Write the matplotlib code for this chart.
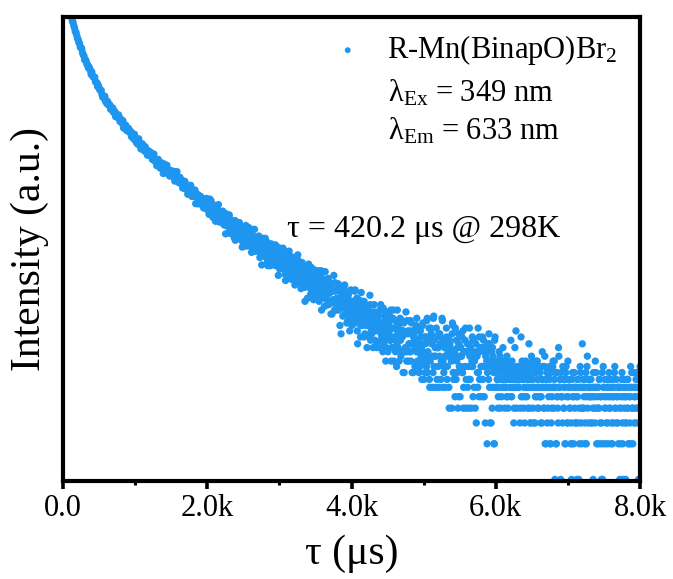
import numpy as np
import matplotlib
matplotlib.use("Agg")
import matplotlib.pyplot as plt
from matplotlib.ticker import NullLocator, FixedLocator, FixedFormatter

# ---------------- data (photon counts) ----------------
# channel set A: every 10 µs starting at 120 µs
T_START_A_US = 120.0
T_STEP_US = 10.0

COUNTS_A_0_1K = [
    7940, 7440, 7300, 6820, 6540, 6100, 6000, 5680, 5350, 5230,
    4940, 4830, 4500, 4460, 4370, 4060, 3870, 3800, 3520, 3540,
    3440, 3250, 3200, 3020, 3070, 2955, 2845, 2650, 2780, 2585,
    2510, 2497, 2510, 2295, 2270, 2250, 2092, 2145, 2045, 1964,
    1939, 1941, 1796, 1703, 1745, 1664, 1729, 1565, 1595, 1498,
    1559, 1460, 1467, 1461, 1344, 1382, 1339, 1377, 1265, 1294,
    1279, 1163, 1221, 1155, 1149, 1206, 1143, 1061, 1113, 1055,
    1022, 1077, 934, 984, 984, 985, 891, 927, 887, 925,
    858, 860, 872, 787, 832, 792, 755, 828, 766, 721,
    699, 733, 679, 757, 676, 688, 621, 640, 686, 645,
]
COUNTS_A_1K_2K = [
    643, 596, 648, 597, 600, 550, 601, 579, 549, 584,
    545, 564, 505, 540, 562, 503, 485, 507, 448, 500,
    507, 460, 471, 427, 476, 457, 438, 385, 464, 408,
    403, 421, 452, 385, 396, 411, 366, 409, 387, 372,
    381, 402, 356, 332, 370, 351, 399, 333, 358, 321,
    358, 320, 332, 338, 290, 317, 305, 330, 284, 306,
    306, 257, 292, 267, 270, 306, 280, 246, 279, 256,
    246, 279, 214, 244, 250, 256, 213, 237, 221, 246,
    218, 224, 235, 197, 225, 209, 195, 237, 210, 192,
    185, 207, 183, 228, 187, 196, 164, 176, 203, 184,
]
COUNTS_A_2K_3K = [
    185, 163, 194, 168, 173, 150, 177, 168, 154, 176,
    158, 171, 141, 162, 176, 145, 138, 151, 121, 151,
    158, 135, 143, 120, 149, 140, 132, 105, 148, 120,
    119, 130, 148, 112, 120, 128, 104, 129, 117, 110,
    117, 130, 106, 94, 116, 106, 134, 98, 113, 93,
    117, 97, 105, 110, 85, 101, 96, 111, 87, 99,
    102, 75, 96, 83, 87, 109, 95, 77, 97, 85,
    81, 101, 64, 83, 88, 92, 69, 83, 75, 90,
    75, 79, 86, 64, 82, 73, 65, 91, 76, 65,
    62, 76, 63, 90, 66, 72, 54, 61, 79, 68,
]
COUNTS_A_3K_4K = [
    69, 56, 75, 61, 64, 49, 68, 63, 55, 69,
    58, 66, 49, 62, 71, 54, 50, 59, 41, 60,
    63, 49, 55, 42, 59, 55, 50, 34, 61, 45,
    43, 51, 62, 41, 46, 52, 37, 53, 47, 42,
    47, 55, 40, 32, 46, 41, 58, 36, 46, 34,
    48, 36, 42, 45, 30, 40, 37, 47, 32, 40,
    41, 25, 39, 31, 33, 46, 39, 27, 40, 33,
    30, 43, 20, 32, 35, 38, 24, 33, 28, 38,
    28, 31, 36, 22, 33, 28, 24, 40, 30, 24,
    22, 31, 23, 40, 25, 29, 18, 22, 33, 27,
]
COUNTS_A_4K_5K = [
    28, 20, 32, 23, 25, 16, 28, 25, 20, 28,
    22, 27, 16, 25, 30, 19, 17, 23, 13, 24,
    26, 18, 21, 14, 25, 22, 20, 13, 27, 17,
    16, 21, 28, 14, 18, 22, 13, 23, 19, 16,
    19, 24, 15, 10, 19, 16, 27, 13, 19, 12,
    22, 14, 17, 20, 10, 17, 15, 22, 12, 18,
    18, 8, 17, 12, 13, 22, 17, 10, 18, 14,
    12, 21, 8, 14, 16, 18, 9, 15, 12, 19,
    12, 14, 18, 9, 16, 13, 10, 21, 14, 10,
    8, 16, 9, 23, 12, 15, 7, 10, 19, 14,
]
COUNTS_A_5K_6K = [
    15, 8, 24, 11, 13, 6, 16, 13, 9, 17,
    11, 16, 7, 14, 22, 10, 8, 13, 6, 14,
    16, 9, 12, 6, 15, 13, 11, 4, 21, 8,
    8, 12, 19, 7, 10, 13, 5, 14, 11, 9,
    11, 16, 8, 4, 12, 9, 19, 7, 12, 6,
    14, 7, 11, 13, 4, 10, 9, 15, 6, 11,
    12, 3, 11, 6, 8, 16, 12, 5, 13, 9,
    7, 15, 5, 9, 11, 13, 2, 10, 7, 14,
    3, 9, 12, 4, 11, 8, 2, 16, 10, 6,
    7, 4, 9, 6, 11, 8, 5, 7, 13, 6,
]
COUNTS_A_6K_7K = [
    8, 6, 10, 5, 7, 4, 9, 8, 6, 15,
    5, 9, 7, 3, 8, 6, 18, 4, 7, 9,
    6, 8, 4, 16, 7, 5, 9, 6, 3, 8,
    9, 5, 7, 6, 14, 4, 8, 3, 7, 10,
    6, 3, 8, 5, 10, 7, 4, 6, 9, 5,
    7, 5, 3, 9, 6, 4, 11, 7, 2, 8,
    4, 8, 6, 7, 2, 3, 5, 9, 6, 10,
    1, 8, 2, 5, 4, 13, 6, 7, 1, 5,
    5, 9, 4, 6, 2, 8, 7, 3, 10, 6,
    6, 4, 2, 1, 7, 5, 2, 8, 3, 6,
]
COUNTS_A_7K_8K = [
    5, 7, 3, 1, 2, 9, 6, 4, 14, 7,
    4, 6, 2, 8, 5, 11, 3, 7, 6, 5,
    7, 3, 5, 1, 6, 4, 10, 8, 2, 5,
    6, 4, 7, 2, 5, 3, 1, 9, 6, 4,
    2, 5, 7, 3, 6, 8, 4, 5, 2, 7,
    5, 3, 6, 9, 4, 7, 5, 3, 2, 6,
    1, 6, 4, 8, 2, 5, 7, 3, 1, 6,
    4, 7, 2, 5, 3, 9, 6, 4, 2, 8,
    5, 3, 6, 4, 8, 7, 1, 5, 9,
]

# channel set B: the in-between channels, every 10 µs starting at 2005 µs
T_START_B_US = 2005.0

COUNTS_B_2K_3K = [
    220, 197, 174, 234, 182, 202, 187, 212, 168, 188,
    184, 152, 195, 183, 167, 210, 151, 158, 178, 162,
    154, 185, 144, 155, 168, 119, 162, 153, 144, 167,
    172, 130, 146, 119, 138, 150, 126, 110, 154, 127,
    111, 136, 127, 117, 148, 109, 125, 136, 92, 123,
    128, 110, 94, 140, 102, 117, 107, 126, 94, 109,
    107, 83, 117, 108, 96, 130, 85, 91, 107, 95,
    89, 114, 83, 92, 102, 65, 98, 93, 85, 104,
    109, 77, 90, 70, 84, 94, 76, 64, 98, 78,
    66, 86, 79, 72, 96, 66, 79, 87, 53, 78,
]
COUNTS_B_3K_4K = [
    60, 79, 72, 65, 89, 60, 72, 80, 48, 71,
    76, 62, 50, 85, 56, 68, 60, 76, 51, 63,
    61, 44, 69, 63, 54, 79, 46, 50, 63, 54,
    50, 68, 45, 52, 60, 32, 57, 53, 48, 62,
    66, 42, 52, 37, 48, 56, 42, 33, 59, 44,
    35, 50, 46, 40, 58, 36, 46, 52, 27, 45,
    49, 39, 29, 57, 34, 44, 38, 50, 30, 40,
    38, 25, 45, 40, 33, 53, 27, 31, 40, 34,
    31, 45, 27, 33, 39, 17, 37, 34, 30, 41,
    44, 25, 33, 21, 30, 36, 25, 18, 39, 27,
]
COUNTS_B_4K_5K = [
    20, 32, 28, 24, 39, 21, 29, 34, 14, 29,
    32, 24, 16, 38, 20, 28, 23, 32, 17, 25,
    24, 13, 29, 25, 20, 36, 15, 18, 26, 21,
    18, 30, 15, 20, 25, 13, 24, 21, 18, 27,
    30, 15, 21, 12, 19, 24, 15, 10, 26, 17,
    12, 21, 18, 15, 27, 13, 19, 23, 10, 19,
    22, 15, 9, 27, 13, 19, 15, 23, 11, 17,
    16, 8, 21, 17, 13, 26, 10, 12, 18, 14,
    12, 22, 10, 14, 18, 8, 17, 15, 13, 20,
    23, 10, 15, 8, 14, 18, 11, 7, 20, 12,
]
COUNTS_B_5K_6K = [
    7, 16, 14, 11, 22, 8, 15, 19, 6, 15,
    17, 11, 6, 23, 9, 15, 11, 19, 7, 13,
    13, 6, 17, 14, 10, 23, 6, 9, 15, 11,
    9, 19, 7, 11, 15, 4, 14, 12, 10, 17,
    20, 7, 12, 5, 11, 15, 8, 4, 17, 9,
    5, 13, 11, 8, 18, 6, 12, 15, 4, 12,
    14, 9, 4, 19, 7, 12, 9, 16, 5, 11,
    10, 4, 14, 11, 8, 19, 5, 7, 13, 9,
    7, 16, 5, 9, 13, 3, 12, 10, 8, 14,
    17, 6, 10, 3, 9, 13, 6, 2, 15, 8,
]
COUNTS_B_6K_7K = [
    6, 9, 7, 5, 12, 8, 4, 7, 10, 6,
    9, 7, 4, 8, 6, 11, 5, 7, 9, 8,
    7, 5, 10, 6, 8, 4, 13, 7, 6, 9,
    8, 6, 7, 3, 9, 5, 10, 8, 4, 7,
    5, 10, 6, 8, 4, 7, 9, 3, 6, 11,
    7, 4, 9, 6, 3, 8, 5, 10, 6, 4,
    5, 8, 3, 6, 12, 7, 4, 9, 2, 6,
    6, 3, 7, 5, 9, 2, 8, 4, 6, 10,
    4, 7, 6, 2, 8, 5, 3, 11, 6, 7,
    8, 5, 3, 7, 4, 6, 2, 9, 5, 3,
]
COUNTS_B_7K_8K = [
    5, 7, 4, 6, 3, 2, 8, 5, 6, 4,
    6, 3, 1, 5, 7, 4, 6, 8, 3, 2,
    4, 6, 5, 3, 7, 2, 9, 4, 6, 5,
    7, 5, 3, 6, 4, 8, 5, 3, 6, 4,
    6, 2, 4, 7, 3, 5, 1, 8, 2, 6,
    5, 7, 4, 3, 6, 2, 5, 7, 4, 6,
    3, 2, 6, 5, 8, 4, 7, 3, 5, 6,
    6, 4, 2, 5, 7, 3, 1, 6, 4, 5,
    5, 3, 7, 4, 2, 6, 5, 2, 8, 4,
    4, 6, 3, 5, 7, 4, 6, 3, 5, 8,
]

SERIES_LABEL = r"R-Mn(BinapO)Br$_2$"
EX_TEXT = r"λ$_{\mathrm{Ex}}$ = 349 nm"
EM_TEXT = r"λ$_{\mathrm{Em}}$ = 633 nm"
TAU_TEXT = "τ = 420.2 μs @ 298K"
X_TICKS = [0, 2000, 4000, 6000, 8000]
X_TICK_LABELS = ["0.0", "2.0k", "4.0k", "6.0k", "8.0k"]
X_MINOR_TICKS = [1000, 3000, 5000, 7000]
X_LABEL = "τ (μs)"
Y_LABEL = "Intensity (a.u.)"

counts_a = np.array(COUNTS_A_0_1K + COUNTS_A_1K_2K + COUNTS_A_2K_3K
                    + COUNTS_A_3K_4K + COUNTS_A_4K_5K + COUNTS_A_5K_6K
                    + COUNTS_A_6K_7K + COUNTS_A_7K_8K, dtype=float)
times_a = T_START_A_US + T_STEP_US * np.arange(len(counts_a))
counts_b = np.array(COUNTS_B_2K_3K + COUNTS_B_3K_4K + COUNTS_B_4K_5K
                    + COUNTS_B_5K_6K + COUNTS_B_6K_7K + COUNTS_B_7K_8K,
                    dtype=float)
times_b = T_START_B_US + T_STEP_US * np.arange(len(counts_b))

times = np.concatenate([times_a, times_b])
counts = np.concatenate([counts_a, counts_b])

# ---------------- style ----------------
plt.rcParams["font.family"] = ["Liberation Serif", "DejaVu Serif"]
plt.rcParams["mathtext.fontset"] = "custom"
plt.rcParams["mathtext.rm"] = "Liberation Serif"
plt.rcParams["mathtext.it"] = "Liberation Serif:italic"
plt.rcParams["mathtext.bf"] = "Liberation Serif:bold"

BLUE = "#1E96F0"

fig = plt.figure(figsize=(6.73, 5.79), dpi=100)
ax = fig.add_axes([0.0936, 0.1693, 0.8574, 0.8014])

ax.scatter(times, counts, s=28, color=BLUE, edgecolors="none",
           label=SERIES_LABEL, zorder=2)

ax.set_yscale("log")
ax.set_xlim(0, 8000)
ax.set_ylim(0.97, 8100)
ax.yaxis.set_major_locator(NullLocator())
ax.yaxis.set_minor_locator(NullLocator())

ax.xaxis.set_major_locator(FixedLocator(X_TICKS))
ax.xaxis.set_major_formatter(FixedFormatter(X_TICK_LABELS))
ax.xaxis.set_minor_locator(FixedLocator(X_MINOR_TICKS))
ax.tick_params(axis="x", which="major", direction="out", length=5.5,
               width=2.6, labelsize=22, pad=4)
ax.tick_params(axis="x", which="minor", direction="out", length=3,
               width=2.2)
ax.tick_params(axis="y", which="both", left=False, labelleft=False)

for sp in ax.spines.values():
    sp.set_linewidth(3)
    sp.set_color("black")
    sp.set_zorder(3)

ax.set_xlabel(X_LABEL, fontsize=30, labelpad=8)
ax.set_ylabel(Y_LABEL, fontsize=30, labelpad=10)

leg = ax.legend(loc="upper left", bbox_to_anchor=(0.467, 0.965),
                frameon=False, fontsize=22, handlelength=1.0,
                handletextpad=0.8, borderpad=0, borderaxespad=0,
                scatterpoints=1, markerscale=0.8)

ax.text(0.563, 0.8175, EX_TEXT, transform=ax.transAxes, fontsize=22,
        ha="left", va="baseline")
ax.text(0.563, 0.735, EM_TEXT, transform=ax.transAxes, fontsize=22,
        ha="left", va="baseline")
ax.text(0.388, 0.526, TAU_TEXT, transform=ax.transAxes, fontsize=23,
        ha="left", va="baseline")

fig.savefig("out.png", dpi=100)
